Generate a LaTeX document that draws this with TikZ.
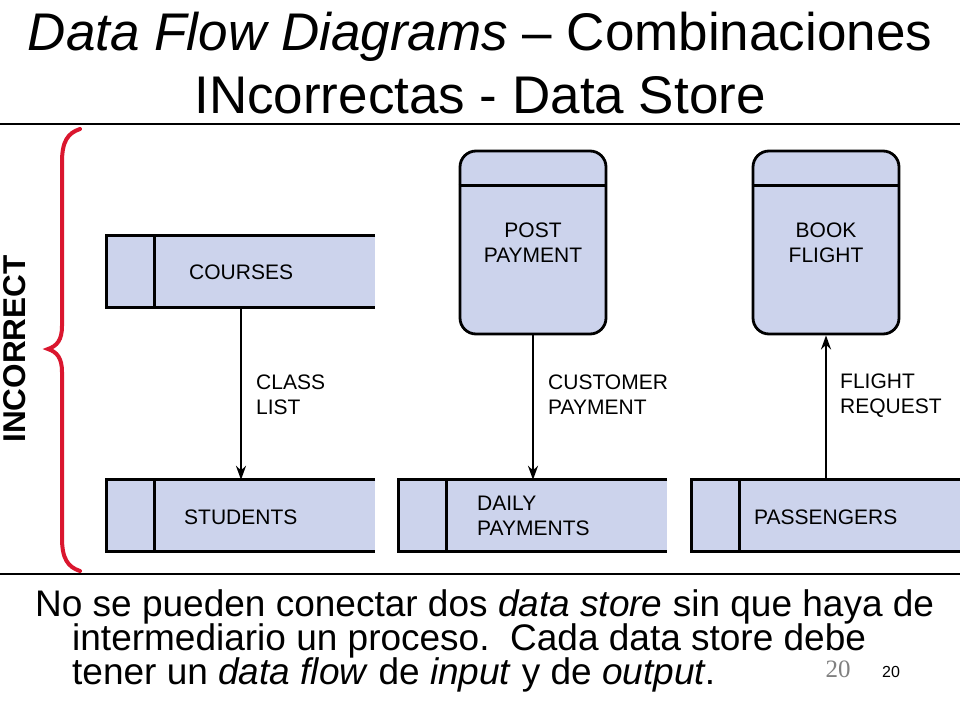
\documentclass[tikz,border=0pt]{standalone}
\usepackage{fontspec}
\setmainfont{Liberation Sans}
\newfontfamily\serifnum{Liberation Serif}
\usetikzlibrary{arrows.meta}
\definecolor{storefill}{RGB}{204,211,236}
\definecolor{bracered}{RGB}{218,22,46}
\begin{document}
\begin{tikzpicture}[x=1pt,y=-1pt,
 store/.style={fill=storefill, minimum width=268pt, minimum height=71pt, inner sep=0pt},
 procbox/.style={draw, line width=2.8pt, fill=storefill, rounded corners=16pt, minimum width=146pt, minimum height=183pt, inner sep=0pt},
 storeline/.style={line width=2.8pt, line join=miter},
 lbl/.style={font=\fontsize{21}{25}\selectfont, align=left, inner sep=0pt},
 flow/.style={line width=2.2pt, -{Stealth[length=14pt,width=10pt]}},
 rule/.style={line width=1.3pt},
 titletext/.style={anchor=base, font=\fontsize{53}{63}\selectfont, inner sep=0pt},
 bodytext/.style={anchor=base west, font=\fontsize{37}{40}\selectfont, inner sep=0pt}]

\useasboundingbox (0,0) rectangle (960,720);
\fill[white] (0,0) rectangle (960,720);

% title
\node[titletext] (title1) at (480,50) {\textit{Data Flow Diagrams} – Combinaciones};
\node[titletext] (title2) at (480,113) {INcorrectas - Data Store};

% rules
\coordinate (ruleAl) at (0,124);
\coordinate (ruleAr) at (960,124);
\coordinate (ruleBl) at (0,574);
\coordinate (ruleBr) at (960,574);
\draw[rule] (ruleAl) -- (ruleAr);
\draw[rule] (ruleBl) -- (ruleBr);

% brace and side label
\draw[bracered, line width=4pt, line cap=round]
  (80,129) .. controls (68,133) and (62,141) .. (62,162)
  -- (62,326) .. controls (62,340) and (57,346) .. (48,349)
  .. controls (57,352) and (62,358) .. (62,372)
  -- (62,538) .. controls (62,559) and (68,567) .. (80,571);
\node[rotate=90, font=\bfseries\fontsize{31.5}{36}\selectfont, inner sep=0pt] (incorrect) at (15,349) {INCORRECT};

% data stores
\node[store] (courses) at (241,271.5) {};
\node[store] (students) at (241,515.5) {};
\node[store] (daily) at (533,515.5) {};
\node[store] (passengers) at (826,515.5) {};
\foreach \s in {courses,students,daily,passengers}{
  \draw[storeline] (\s.north east) -- (\s.north west) -- (\s.south west) -- (\s.south east);
  \draw[storeline] ([xshift=48pt]\s.north west) -- ([xshift=48pt]\s.south west);
}
\node[lbl, anchor=west] (coursest) at (189,272) {COURSES};
\node[lbl, anchor=west] (studentst) at (184,517) {STUDENTS};
\node[lbl, anchor=west] (dailyt) at (477,515.5) {DAILY\\PAYMENTS};
\node[lbl, anchor=west] (passengerst) at (754,517) {PASSENGERS};

% processes
\node[procbox] (post) at (533,242.5) {};
\node[procbox] (book) at (826,242.5) {};
\foreach \p in {post,book}{
  \draw[storeline] ([yshift=-36pt]\p.north west) -- ([yshift=-36pt]\p.north east);
}
\node[lbl, align=center] (postt) at (533,242.5) {POST\\PAYMENT};
\node[lbl, align=center] (bookt) at (826,242.5) {BOOK\\FLIGHT};

% flows
\draw[flow] (courses.south) -- (students.north);
\draw[flow] (post.south) -- (daily.north);
\draw[flow] (passengers.north) -- (book.south);
\node[lbl, anchor=west] (classlist) at (256,394.5) {CLASS\\LIST};
\node[lbl, anchor=west] (custpay) at (548,394.5) {CUSTOMER\\PAYMENT};
\node[lbl, anchor=west] (flightreq) at (840,395.5) {FLIGHT\\REQUEST};

% body text
\node[bodytext] (para1) at (35,616) {No se pueden conectar dos \textit{data store} sin que haya de};
\node[bodytext] (para2) at (72,650) {intermediario un proceso.\ \ Cada data store debe};
\node[bodytext] (para3) at (72,684) {tener un \textit{data flow} de \textit{input} y de \textit{output}.};

% page numbers
\node[anchor=base, font=\serifnum\fontsize{25}{28}\selectfont, text=black!50, inner sep=0pt] (pagegray) at (838,677) {20};
\node[anchor=base, font=\fontsize{16}{18}\selectfont, inner sep=0pt] (pageblack) at (891,677) {20};
\end{tikzpicture}
\end{document}
